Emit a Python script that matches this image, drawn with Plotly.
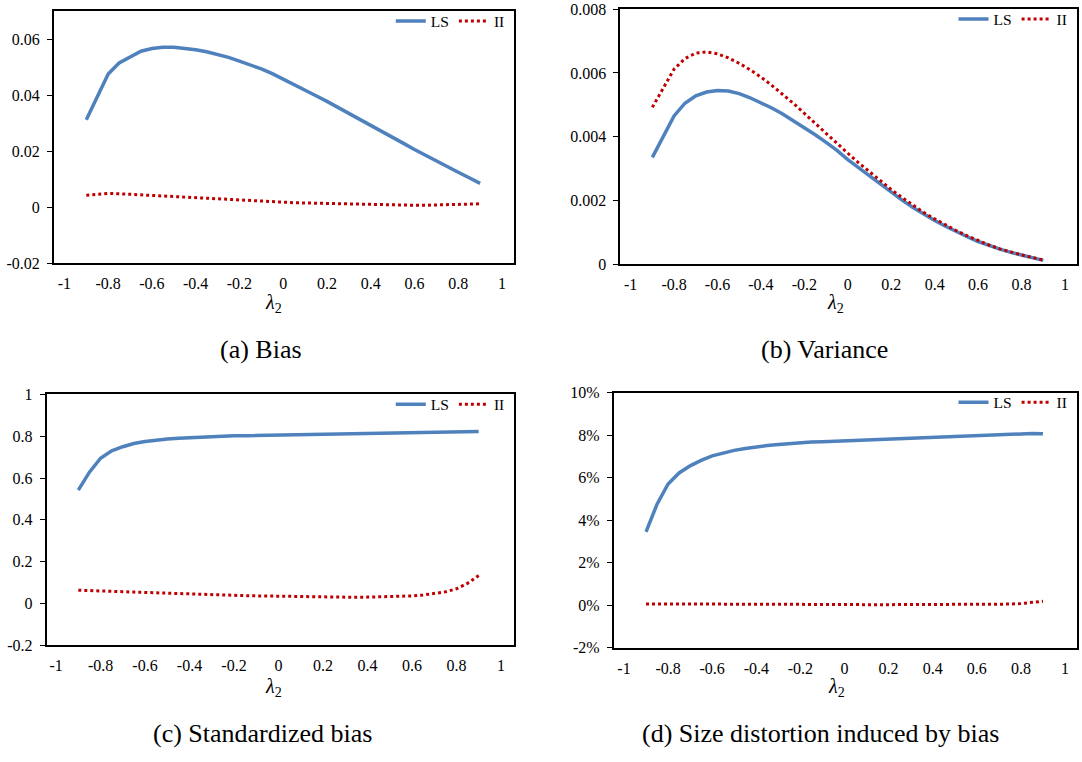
import plotly.graph_objects as go

# ---------------- data ----------------
lam2 = [-0.9, -0.85, -0.8, -0.75, -0.7, -0.65, -0.6, -0.55, -0.5, -0.45, -0.4, -0.35, -0.3,
        -0.25, -0.2, -0.15, -0.1, -0.05, 0.0, 0.05, 0.1, 0.15, 0.2, 0.25, 0.3, 0.35, 0.4,
        0.45, 0.5, 0.55, 0.6, 0.65, 0.7, 0.75, 0.8, 0.85, 0.9]

bias_ls = [0.0312, 0.0397, 0.0476, 0.0515, 0.0537, 0.0557, 0.0567, 0.0571, 0.0571, 0.0567,
           0.0562, 0.0555, 0.0546, 0.0535, 0.0522, 0.0509, 0.0494, 0.0477, 0.0458, 0.0438,
           0.0418, 0.0398, 0.0378, 0.0357, 0.0336, 0.0315, 0.0294, 0.0272, 0.0250, 0.0228,
           0.0206, 0.0185, 0.0165, 0.0145, 0.0125, 0.0105, 0.0085]
bias_ii = [0.0043, 0.0047, 0.0049, 0.0048, 0.0046, 0.0043, 0.0040, 0.0038, 0.0036, 0.0034,
           0.0032, 0.0030, 0.0028, 0.0026, 0.0025, 0.0023, 0.0021, 0.0019, 0.0018, 0.0016,
           0.0015, 0.0014, 0.0013, 0.0012, 0.0011, 0.0010, 0.0009, 0.0008, 0.0008, 0.0007,
           0.0007, 0.0007, 0.0008, 0.0008, 0.0009, 0.0010, 0.0012]

var_ls = [0.00335, 0.00398, 0.00465, 0.00505, 0.00528, 0.00540, 0.00545, 0.00543, 0.00535,
          0.00522, 0.00507, 0.00490, 0.00471, 0.00450, 0.00429, 0.00406, 0.00382, 0.00357,
          0.00328, 0.00302, 0.00276, 0.00250, 0.00225, 0.00201, 0.00178, 0.00157, 0.00137,
          0.00119, 0.00101, 0.00086, 0.00071, 0.00058, 0.00047, 0.00037, 0.00028, 0.00020,
          0.00012]
var_ii = [0.00492, 0.00552, 0.00612, 0.00645, 0.00662, 0.00666, 0.00660, 0.00647, 0.00630,
          0.00610, 0.00587, 0.00561, 0.00533, 0.00504, 0.00473, 0.00441, 0.00409, 0.00378,
          0.00348, 0.00318, 0.00289, 0.00261, 0.00234, 0.00209, 0.00185, 0.00162, 0.00142,
          0.00123, 0.00105, 0.00089, 0.00074, 0.00060, 0.00048, 0.00038, 0.00029, 0.00021,
          0.00013]

sbias_ls = [0.542, 0.628, 0.695, 0.730, 0.750, 0.765, 0.775, 0.782, 0.787, 0.791, 0.794,
            0.796, 0.798, 0.800, 0.802, 0.803, 0.804, 0.805, 0.806, 0.807, 0.808, 0.809,
            0.810, 0.811, 0.812, 0.813, 0.814, 0.815, 0.816, 0.817, 0.818, 0.819, 0.819,
            0.822, 0.823, 0.823, 0.823]
sbias_ii = [0.063, 0.062, 0.060, 0.058, 0.056, 0.054, 0.052, 0.050, 0.048, 0.046, 0.044,
            0.043, 0.041, 0.040, 0.038, 0.037, 0.036, 0.035, 0.034, 0.033, 0.032, 0.031,
            0.030, 0.029, 0.029, 0.029, 0.030, 0.031, 0.032, 0.034, 0.036, 0.040, 0.046,
            0.055, 0.070, 0.096, 0.133]

size_ls = [0.0345, 0.0475, 0.0570, 0.0622, 0.0655, 0.0681, 0.0702, 0.0717, 0.0728, 0.0737,
           0.0745, 0.0751, 0.0756, 0.0761, 0.0765, 0.0767, 0.0769, 0.0771, 0.0772, 0.0774,
           0.0776, 0.0778, 0.0780, 0.0782, 0.0784, 0.0786, 0.0788, 0.0790, 0.0792, 0.0794,
           0.0796, 0.0798, 0.0800, 0.0803, 0.0807, 0.0807, 0.0806]
size_ii = [0.0006, 0.0006, 0.0006, 0.0006, 0.0006, 0.0005, 0.0005, 0.0005, 0.0005, 0.0005,
           0.0004, 0.0004, 0.0004, 0.0004, 0.0004, 0.0004, 0.0004, 0.0004, 0.0003, 0.0003,
           0.0002, 0.0002, 0.0002, 0.0002, 0.0002, 0.0002, 0.0002, 0.0002, 0.0002, 0.0002,
           0.0003, 0.0003, 0.0004, 0.0005, 0.0008, 0.0012, 0.0018]

x_tickvals = [-1, -0.8, -0.6, -0.4, -0.2, 0, 0.2, 0.4, 0.6, 0.8, 1]
x_ticktext = ["-1", "-0.8", "-0.6", "-0.4", "-0.2", "0", "0.2", "0.4", "0.6", "0.8", "1"]

ya_vals = [-0.02, 0, 0.02, 0.04, 0.06]
ya_text = ["-0.02", "0", "0.02", "0.04", "0.06"]
yb_vals = [0, 0.002, 0.004, 0.006, 0.008]
yb_text = ["0", "0.002", "0.004", "0.006", "0.008"]
yc_vals = [-0.2, 0, 0.2, 0.4, 0.6, 0.8, 1]
yc_text = ["-0.2", "0", "0.2", "0.4", "0.6", "0.8", "1"]
yd_vals = [-0.02, 0, 0.02, 0.04, 0.06, 0.08, 0.10]
yd_text = ["-2%", "0%", "2%", "4%", "6%", "8%", "10%"]

captions = ["(a) Bias", "(b) Variance", "(c) Standardized bias",
            "(d) Size distortion induced by bias"]
series_names = ["LS", "II"]

# ---------------- styling / layout ----------------
W, H = 1082, 762
FONT = "Times New Roman, Liberation Serif, Tinos, serif"
BLUE = "#4F81BD"
RED = "#C00000"

# panel boxes in pixels: left, right, top, bottom
boxes = [
    (53.7, 513.8, 3.3, 261.0),
    (620.2, 1076.5, 1.2, 262.0),
    (46.5, 513.8, 395.3, 651.7),
    (613.6, 1076.5, 393.3, 654.3),
]
xranges = [[-1.049, 1.054], [-1.048, 1.053], [-1.043, 1.058], [-1.047, 1.052]]
yranges = [[-0.02, 0.07], [0, 0.008], [-0.2, 1.0], [-0.02, 0.10]]
yticks = [(ya_vals, ya_text), (yb_vals, yb_text), (yc_vals, yc_text), (yd_vals, yd_text)]
data = [(bias_ls, bias_ii), (var_ls, var_ii), (sbias_ls, sbias_ii), (size_ls, size_ii)]
lam_pos = [(273, 302), (835, 302), (273, 695), (836, 695)]
cap_pos = [(261, 349), (824, 349), (262, 742), (821, 742)]

fig = go.Figure()
layout = dict(width=W, height=H, margin=dict(l=0, r=0, t=0, b=0),
              paper_bgcolor="white", plot_bgcolor="white",
              font=dict(family=FONT, size=16, color="black"),
              annotations=[])

for i in range(4):
    l, r, t, b = boxes[i]
    sfx = "" if i == 0 else str(i + 1)
    leg = "legend" if i == 0 else "legend" + str(i + 1)
    ls, ii = data[i]
    fig.add_trace(go.Scatter(x=lam2, y=ls, mode="lines", name=series_names[0],
                             line=dict(color=BLUE, width=3.5),
                             xaxis="x" + sfx, yaxis="y" + sfx, legend=leg))
    fig.add_trace(go.Scatter(x=lam2, y=ii, mode="lines", name=series_names[1],
                             line=dict(color=RED, width=3, dash="dot"),
                             xaxis="x" + sfx, yaxis="y" + sfx, legend=leg))
    layout["xaxis" + sfx] = dict(
        domain=[l / W, r / W], range=xranges[i], anchor="y" + sfx,
        tickvals=x_tickvals, ticktext=x_ticktext, ticks="", showgrid=False,
        zeroline=False, showline=True, linecolor="black", linewidth=1.5, mirror=True,
        tickfont=dict(family=FONT, size=16, color="black"), ticklabelstandoff=5)
    layout["yaxis" + sfx] = dict(
        domain=[1 - b / H, 1 - t / H], range=yranges[i], anchor="x" + sfx,
        tickvals=yticks[i][0], ticktext=yticks[i][1], ticks="outside", ticklen=5,
        tickwidth=1.2, tickcolor="black", showgrid=False, zeroline=False,
        showline=True, linecolor="black", linewidth=1.5, mirror=True,
        tickfont=dict(family=FONT, size=16, color="black"), ticklabelstandoff=4)
    layout[leg] = dict(orientation="h", x=(r - 4) / W, xanchor="right",
                       y=1 - (t - 7) / H, yanchor="top", bgcolor="rgba(0,0,0,0)",
                       font=dict(family=FONT, size=15.5, color="black"),
                       itemwidth=30, tracegroupgap=0)
    layout["annotations"].append(dict(
        text="<i>λ</i><sub>2</sub>", x=lam_pos[i][0] / W, y=1 - lam_pos[i][1] / H,
        xref="paper", yref="paper", showarrow=False, xanchor="center", yanchor="middle",
        font=dict(family=FONT, size=20, color="black")))
    layout["annotations"].append(dict(
        text=captions[i], x=cap_pos[i][0] / W, y=1 - cap_pos[i][1] / H,
        xref="paper", yref="paper", showarrow=False, xanchor="center", yanchor="middle",
        font=dict(family=FONT, size=26, color="black")))

fig.update_layout(**layout)
fig.write_html(
    "out.html",
    config={"displayModeBar": False},
    post_script="document.body.style.margin='0';document.body.style.overflow='hidden';",
)
